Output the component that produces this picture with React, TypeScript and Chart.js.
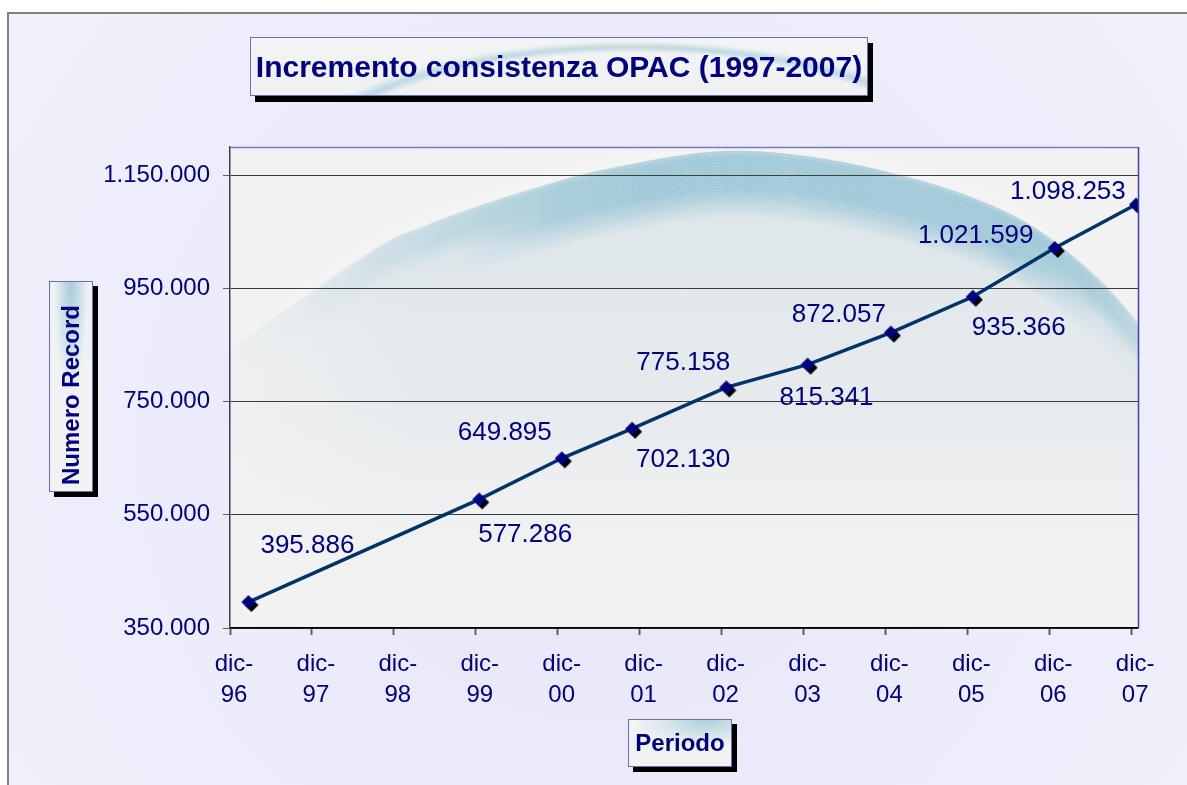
import React, { useEffect, useRef } from 'react';
import { Chart, registerables } from 'chart.js';

Chart.register(...registerables);

// ---- data ----
const periods = ['feb-97', 'dic-99', 'dic-00', 'ott-01', 'dic-02', 'dic-03', 'dic-04', 'dic-05', 'dic-06', 'dic-07'];
const monthsFromDec96 = [2.7, 36.5, 48.6, 58.9, 72.7, 84.6, 96.8, 108.8, 120.8, 132.7];
const records = [395886, 577286, 649895, 702130, 775158, 815341, 872057, 935366, 1021599, 1098253];
const yearLabels = ['96', '97', '98', '99', '00', '01', '02', '03', '04', '05', '06', '07'];
const yTickValues = [350000, 550000, 750000, 950000, 1150000];

// ---- style (label placement relative to its point, px) ----
const LABEL_OFFSETS: [number, number][] = [
  [59, -56], [46, 35], [-57, -25], [51, 31], [-43, -25],
  [19, 33], [-52, -18], [46, 31], [-79, -12], [-68, -13],
];

// decorative arc (fractions of the plot area)
const ARC_SHAPE: [number, number][] = [
  [-0.06, 0.5], [0.146, 0.229], [0.22, 0.16], [0.33, 0.089], [0.43, 0.04],
  [0.562, 0.008], [0.716, 0.048], [0.859, 0.139], [0.958, 0.277], [1.03, 0.44],
];

const FONT = '"Liberation Sans", Arial, Helvetica, sans-serif';
const NAVY = '#000080';

const fmt = (n: number) => Math.round(n).toString().replace(/\B(?=(\d{3})+(?!\d))/g, '.');

function makeDiamond(): HTMLCanvasElement {
  const c = document.createElement('canvas');
  c.width = 26;
  c.height = 26;
  const g = c.getContext('2d')!;
  const d = (cx: number, cy: number, r: number, col: string) => {
    g.beginPath();
    g.moveTo(cx, cy - r);
    g.lineTo(cx + r, cy);
    g.lineTo(cx, cy + r);
    g.lineTo(cx - r, cy);
    g.closePath();
    g.fillStyle = col;
    g.fill();
  };
  d(16, 16, 7, '#000000');
  d(13, 13, 7, NAVY);
  return c;
}

function curvePath(ctx: CanvasRenderingContext2D, pts: [number, number][], dy: number) {
  const p = pts.map(([x, y]) => [x, y + dy]);
  ctx.moveTo(p[0][0], p[0][1]);
  for (let i = 0; i < p.length - 1; i++) {
    const p0 = p[Math.max(0, i - 1)];
    const p1 = p[i];
    const p2 = p[i + 1];
    const p3 = p[Math.min(p.length - 1, i + 2)];
    ctx.bezierCurveTo(
      p1[0] + (p2[0] - p0[0]) / 6, p1[1] + (p2[1] - p0[1]) / 6,
      p2[0] - (p3[0] - p1[0]) / 6, p2[1] - (p3[1] - p1[1]) / 6,
      p2[0], p2[1],
    );
  }
}

const backgroundPlugin = {
  id: 'bgPanel',
  beforeDraw(chart: any) {
    const { ctx, width, height, chartArea: a } = chart;
    ctx.save();
    ctx.fillStyle = '#ffffff';
    ctx.fillRect(0, 0, width, height);
    // lavender panel
    const rg = ctx.createRadialGradient(600, 450, 50, 600, 450, 750);
    rg.addColorStop(0, '#E6E6F9');
    rg.addColorStop(1, '#F1F1FC');
    ctx.fillStyle = rg;
    ctx.fillRect(8, 13, width, height);
    ctx.strokeStyle = '#808080';
    ctx.lineWidth = 2;
    ctx.beginPath();
    ctx.moveTo(8, height + 5);
    ctx.lineTo(8, 13);
    ctx.lineTo(width + 5, 13);
    ctx.stroke();

    // plot area
    const w = a.right - a.left;
    const h = a.bottom - a.top;
    ctx.fillStyle = '#F2F2F2';
    ctx.fillRect(a.left, a.top, w, h);
    ctx.beginPath();
    ctx.rect(a.left, a.top, w, h);
    ctx.clip();
    const pts: [number, number][] = ARC_SHAPE.map(([fx, fy]) => [a.left + fx * w, a.top + fy * h]);

    // tinted interior under the arc
    const ig = ctx.createLinearGradient(0, a.top, 0, a.bottom);
    ig.addColorStop(0, 'rgba(185,210,222,0.42)');
    ig.addColorStop(0.55, 'rgba(205,218,226,0.3)');
    ig.addColorStop(1, 'rgba(242,242,242,0)');
    const ih = ctx.createLinearGradient(a.left, 0, a.right, 0);
    ctx.fillStyle = ig;
    ctx.beginPath();
    curvePath(ctx, pts, 0);
    ctx.lineTo(a.right + 50, a.bottom);
    ctx.lineTo(a.left - 50, a.bottom);
    ctx.closePath();
    ctx.fill();
    // soften the interior on the far left
    ih.addColorStop(0, 'rgba(242,242,242,0.7)');
    ih.addColorStop(0.2, 'rgba(242,242,242,0)');
    ctx.fillStyle = ih;
    ctx.fill();

    // white glow above the band
    for (let k = 1; k <= 5; k++) {
      const hg = ctx.createLinearGradient(a.left, 0, a.right, 0);
      const al = 0.2 * (1 - k / 6);
      hg.addColorStop(0, 'rgba(255,255,255,0)');
      hg.addColorStop(0.15, `rgba(255,255,255,${al})`);
      hg.addColorStop(0.8, `rgba(255,255,255,${al})`);
      hg.addColorStop(1, 'rgba(255,255,255,0)');
      ctx.strokeStyle = hg;
      ctx.lineWidth = 3;
      ctx.beginPath();
      curvePath(ctx, pts, -k * 3);
      ctx.stroke();
    }

    // blue band
    const step = 3;
    for (let k = 0; k < 66; k += step) {
      let va: number;
      if (k < 4) va = 0.7 + 0.3 * (k / 4);
      else if (k < 36) va = 1;
      else va = Math.max(0, 1 - (k - 36) / 30);
      va *= 0.82;
      const lf = k < 18 ? 1 : Math.max(0.15, 1 - (k - 18) / 24);
      const lg = ctx.createLinearGradient(a.left, 0, a.right, 0);
      const c = (f: number) => `rgba(150,196,212,${(va * f).toFixed(3)})`;
      lg.addColorStop(0, c(0));
      lg.addColorStop(0.08, c(0.04 * lf));
      lg.addColorStop(0.15, c(0.22 * lf));
      lg.addColorStop(0.25, c(0.5 * lf));
      lg.addColorStop(0.36, c(0.85));
      lg.addColorStop(0.46, c(1));
      lg.addColorStop(0.86, c(1));
      lg.addColorStop(0.95, c(0.7 * lf + 0.1));
      lg.addColorStop(1, c(0.4 * lf));
      ctx.strokeStyle = lg;
      ctx.lineWidth = step;
      ctx.lineCap = 'butt';
      ctx.beginPath();
      curvePath(ctx, pts, k + step / 2);
      ctx.stroke();
    }
    ctx.restore();
  },
};

const frameAndLabelsPlugin = {
  id: 'frameLabels',
  afterDatasetsDraw(chart: any) {
    const { ctx, chartArea: a } = chart;
    ctx.save();
    ctx.lineWidth = 1.5;
    ctx.strokeStyle = '#7878C0';
    ctx.beginPath();
    ctx.moveTo(a.left, a.top + 0.5);
    ctx.lineTo(a.right, a.top + 0.5);
    ctx.stroke();
    ctx.strokeStyle = '#4040A8';
    ctx.beginPath();
    ctx.moveTo(a.right + 0.5, a.top);
    ctx.lineTo(a.right + 0.5, a.bottom);
    ctx.stroke();

    const meta = chart.getDatasetMeta(0);
    ctx.font = `26px ${FONT}`;
    ctx.fillStyle = NAVY;
    ctx.textAlign = 'center';
    ctx.textBaseline = 'middle';
    meta.data.forEach((pt: any, i: number) => {
      const [dx, dy] = LABEL_OFFSETS[i] || [0, -24];
      ctx.fillText(fmt(records[i]), pt.x + dx, pt.y + dy);
    });
    ctx.restore();
  },
};

export default function App() {
  const ref = useRef<HTMLCanvasElement>(null);

  useEffect(() => {
    if (!ref.current) return;
    const diamond = makeDiamond();
    const chart = new Chart(ref.current, {
      type: 'line',
      data: {
        labels: periods,
        datasets: [
          {
            label: 'Numero Record',
            data: monthsFromDec96.map((m, i) => ({ x: m, y: records[i] })),
            borderColor: '#003366',
            borderWidth: 3.5,
            pointStyle: diamond as any,
            pointRadius: 7,
            pointHoverRadius: 7,
            tension: 0,
            fill: false,
          },
        ],
      },
      options: {
        animation: false,
        responsive: false,
        devicePixelRatio: 1,
        events: [],
        layout: { padding: { left: 0, top: 147, right: 49, bottom: 0 } },
        plugins: {
          legend: { display: false },
          title: { display: false },
          tooltip: { enabled: false },
        },
        scales: {
          x: {
            type: 'linear',
            min: 0,
            max: 133,
            afterFit: (s: any) => {
              s.height = 157;
            },
            afterBuildTicks: (s: any) => {
              s.ticks = yearLabels.map((_, i) => ({ value: i * 12 }));
            },
            border: { display: true, color: '#000000', width: 1.5 },
            grid: {
              drawOnChartArea: false,
              drawTicks: true,
              tickLength: 7,
              tickColor: '#606060',
              tickWidth: 2,
            },
            ticks: {
              autoSkip: false,
              maxRotation: 0,
              minRotation: 0,
              padding: 14,
              labelOffset: 4,
              color: NAVY,
              font: { family: FONT, size: 24, lineHeight: 1.3 },
              callback: (_v: any, i: number) => ['dic-', yearLabels[i]],
            },
          },
          y: {
            min: 350000,
            max: 1200000,
            afterFit: (s: any) => {
              s.width = 230;
            },
            afterBuildTicks: (s: any) => {
              s.ticks = yTickValues.map((v) => ({ value: v }));
            },
            border: { display: true, color: '#3A3A5A', width: 1.5 },
            grid: {
              color: '#3C3C3C',
              lineWidth: 1,
              drawTicks: true,
              tickLength: 7,
              tickColor: '#606060',
            },
            ticks: {
              padding: 13,
              color: NAVY,
              font: { family: FONT, size: 24 },
              callback: (v: any) => fmt(Number(v)),
            },
          },
        },
      },
      plugins: [backgroundPlugin, frameAndLabelsPlugin],
    });
    return () => chart.destroy();
  }, []);

  const boxBase: React.CSSProperties = {
    position: 'absolute',
    boxSizing: 'border-box',
    border: '1px solid #6E6EB8',
    boxShadow: '5px 6px 0 #000000',
    color: NAVY,
    fontFamily: FONT,
    fontWeight: 'bold',
    display: 'flex',
    alignItems: 'center',
    justifyContent: 'center',
    whiteSpace: 'nowrap',
  };

  return (
    <div style={{ position: 'absolute', left: 0, top: 0, width: 1187, height: 785, overflow: 'hidden' }}>
      <canvas ref={ref} width={1187} height={785} style={{ display: 'block', width: 1187, height: 785 }} />
      <div
        style={{
          ...boxBase,
          left: 250,
          top: 37,
          width: 618,
          height: 59,
          fontSize: 30,
          background:
            'radial-gradient(ellipse 62% 260% at 62% 250%, rgba(0,0,0,0) 86%, rgba(150,195,210,0.55) 90%, rgba(230,240,244,0.4) 94%, rgba(0,0,0,0) 96%), linear-gradient(#F4F4F4, #EEF0F2)',
        }}
      >
        Incremento consistenza OPAC (1997-2007)
      </div>
      <div
        style={{
          ...boxBase,
          left: 49,
          top: 281,
          width: 44,
          height: 211,
          fontSize: 24,
          paddingTop: 17,
          boxShadow: '5px 5px 0 #000000',
          background:
            'radial-gradient(ellipse 40% 55% at 50% 0%, rgba(150,195,210,0.8) 0%, rgba(170,205,218,0.45) 60%, rgba(0,0,0,0) 100%), linear-gradient(#EEF2F4, #F2F2F2)',
        }}
      >
        <span style={{ writingMode: 'vertical-rl', transform: 'rotate(180deg)' }}>Numero Record</span>
      </div>
      <div
        style={{
          ...boxBase,
          left: 628,
          top: 719,
          width: 104,
          height: 48,
          fontSize: 24,
          boxShadow: '5px 5px 0 #000000',
          background:
            'radial-gradient(ellipse 70% 60% at 75% 0%, rgba(150,195,210,0.75) 0%, rgba(170,205,218,0.35) 60%, rgba(0,0,0,0) 100%), linear-gradient(#F2F4F6, #F2F2F2)',
        }}
      >
        Periodo
      </div>
    </div>
  );
}
